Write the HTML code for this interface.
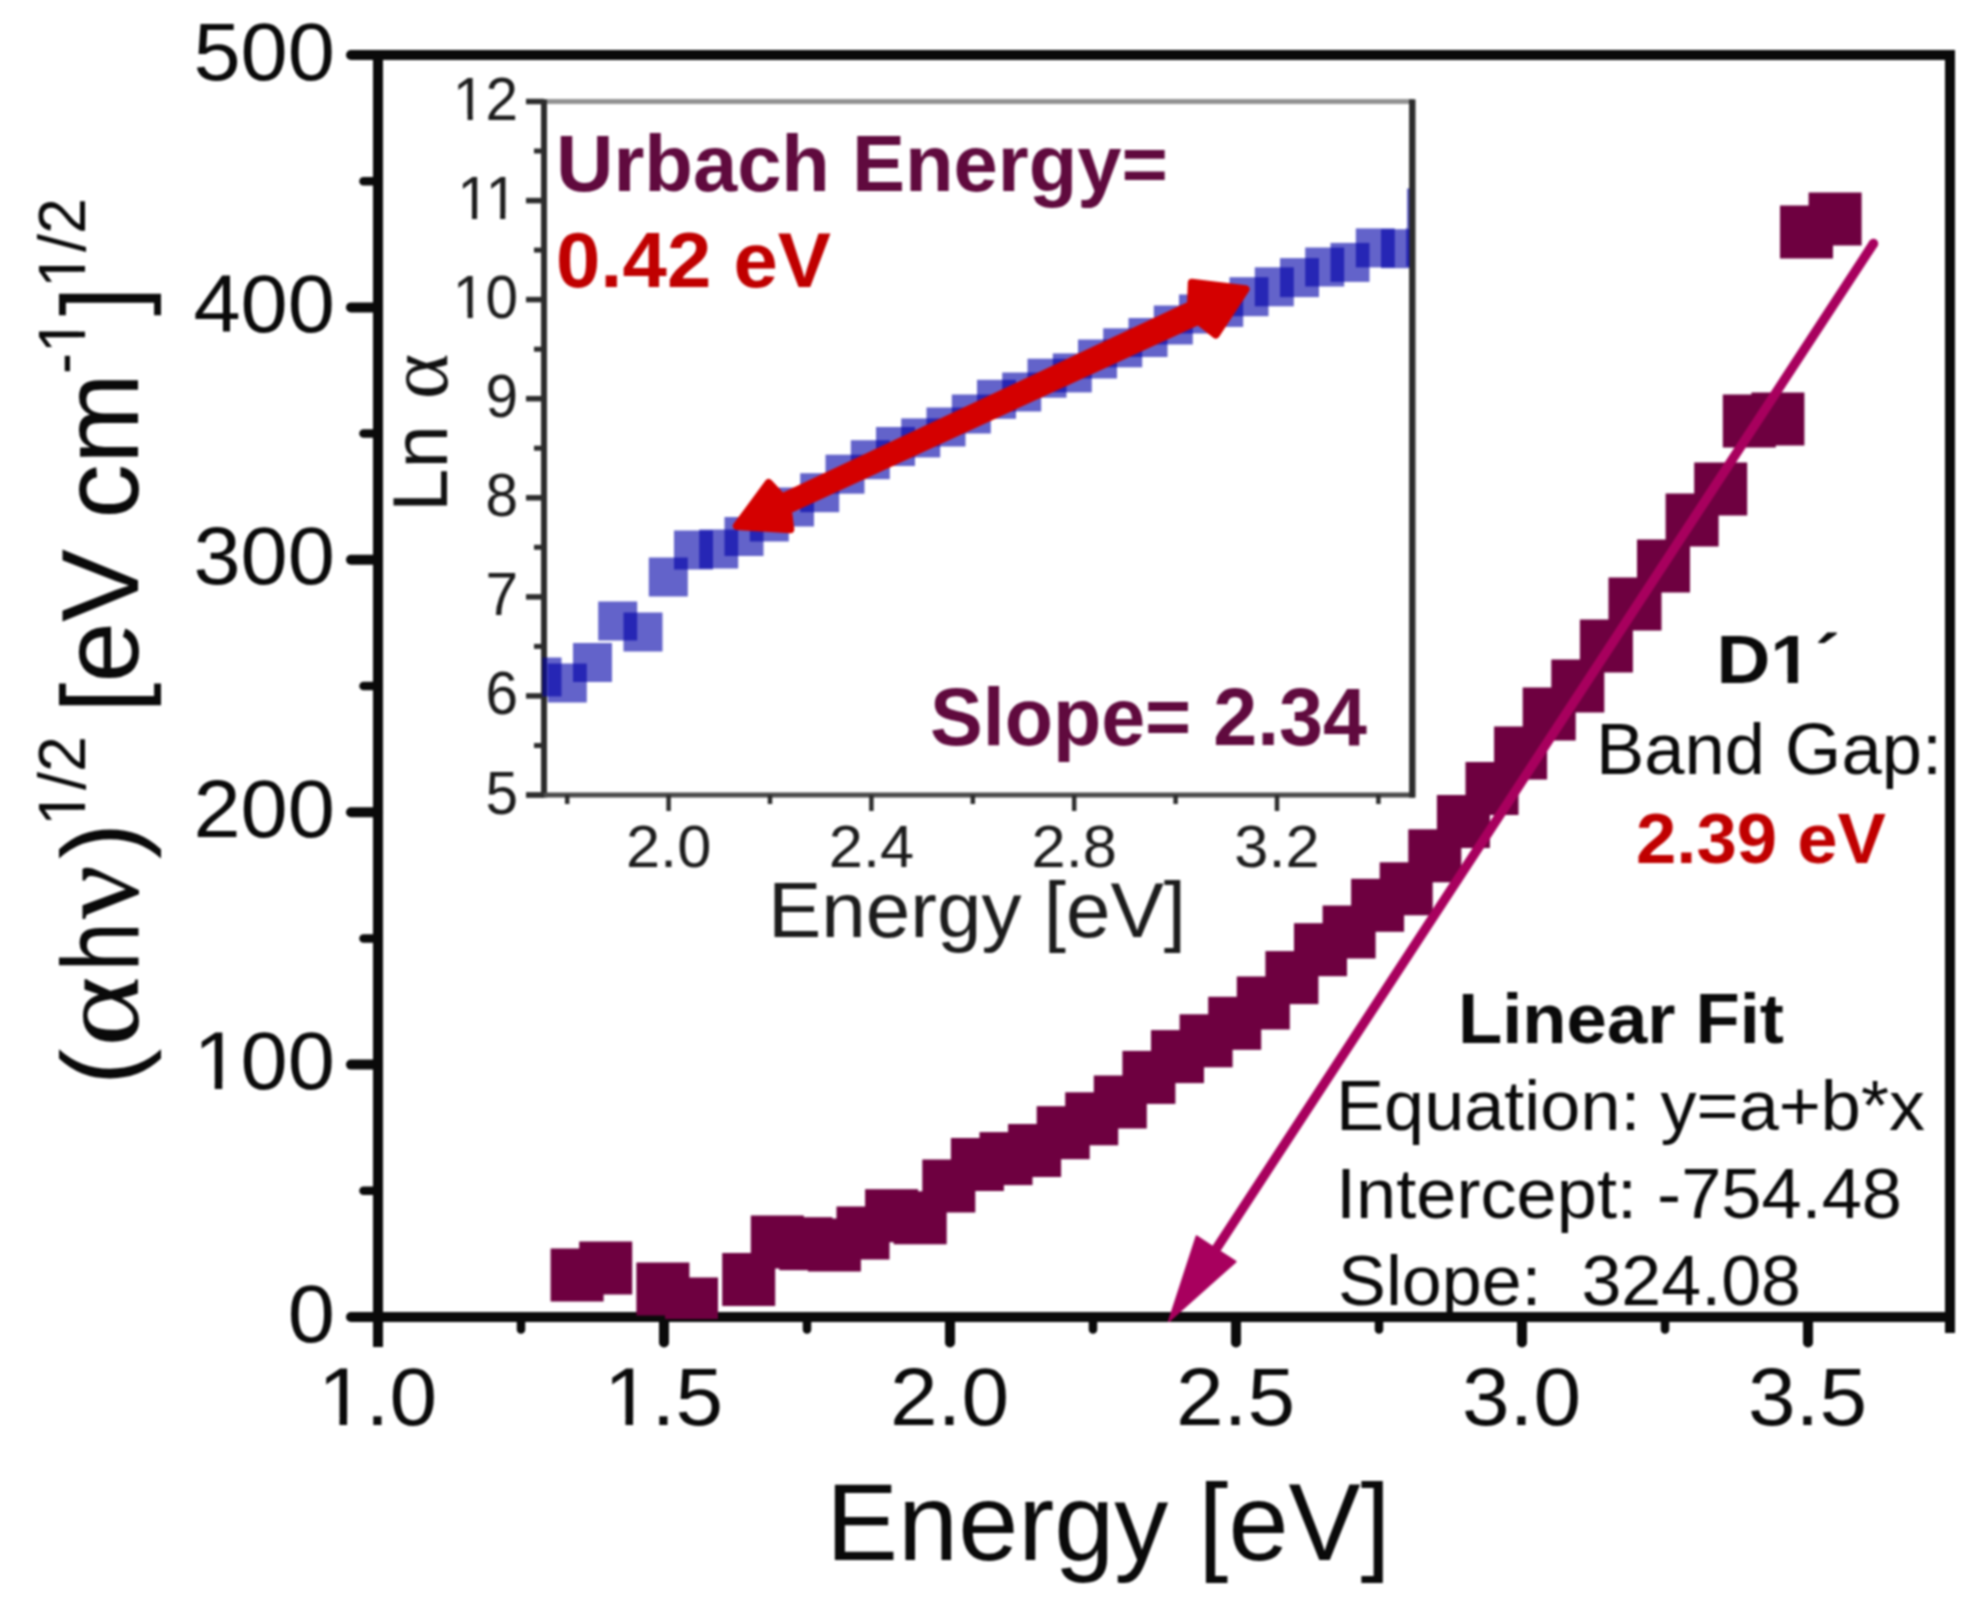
<!DOCTYPE html>
<html lang="en"><head><meta charset="utf-8"><title>Tauc plot</title>
<style>
html,body{margin:0;padding:0;background:#fff;}
body{width:1970px;height:1600px;overflow:hidden;}
svg{display:block;font-family:"Liberation Sans", sans-serif;filter:blur(1.3px);}
</style></head><body>
<svg width="1970" height="1600" viewBox="0 0 1970 1600">
<rect x="0" y="0" width="1970" height="1600" fill="#ffffff"/>
<g id="inset">
<line x1="526" y1="101.5" x2="1412.3" y2="101.5" stroke="#929292" stroke-width="5"/>
<line x1="544" y1="99.5" x2="544" y2="797.5" stroke="#2c2c2c" stroke-width="6"/>
<line x1="1412.3" y1="99.5" x2="1412.3" y2="797.5" stroke="#2c2c2c" stroke-width="6"/>
<line x1="526" y1="795" x2="1414.8" y2="795" stroke="#4a4a4a" stroke-width="5"/>
<line x1="526" y1="795.0" x2="544" y2="795.0" stroke="#2c2c2c" stroke-width="5.5"/>
<line x1="534" y1="745.5" x2="544" y2="745.5" stroke="#2c2c2c" stroke-width="5"/>
<text transform="translate(518,813.5) scale(0.96,1)" font-size="61" text-anchor="end" fill="#1c1c1c">5</text>
<line x1="526" y1="695.9" x2="544" y2="695.9" stroke="#2c2c2c" stroke-width="5.5"/>
<line x1="534" y1="646.4" x2="544" y2="646.4" stroke="#2c2c2c" stroke-width="5"/>
<text transform="translate(518,714.4) scale(0.96,1)" font-size="61" text-anchor="end" fill="#1c1c1c">6</text>
<line x1="526" y1="596.9" x2="544" y2="596.9" stroke="#2c2c2c" stroke-width="5.5"/>
<line x1="534" y1="547.3" x2="544" y2="547.3" stroke="#2c2c2c" stroke-width="5"/>
<text transform="translate(518,615.4) scale(0.96,1)" font-size="61" text-anchor="end" fill="#1c1c1c">7</text>
<line x1="526" y1="497.8" x2="544" y2="497.8" stroke="#2c2c2c" stroke-width="5.5"/>
<line x1="534" y1="448.2" x2="544" y2="448.2" stroke="#2c2c2c" stroke-width="5"/>
<text transform="translate(518,516.3) scale(0.96,1)" font-size="61" text-anchor="end" fill="#1c1c1c">8</text>
<line x1="526" y1="398.7" x2="544" y2="398.7" stroke="#2c2c2c" stroke-width="5.5"/>
<line x1="534" y1="349.2" x2="544" y2="349.2" stroke="#2c2c2c" stroke-width="5"/>
<text transform="translate(518,417.2) scale(0.96,1)" font-size="61" text-anchor="end" fill="#1c1c1c">9</text>
<line x1="526" y1="299.6" x2="544" y2="299.6" stroke="#2c2c2c" stroke-width="5.5"/>
<line x1="534" y1="250.1" x2="544" y2="250.1" stroke="#2c2c2c" stroke-width="5"/>
<text transform="translate(518,318.1) scale(0.96,1)" font-size="61" text-anchor="end" fill="#1c1c1c">10</text><rect x="-64.70" y="-5.36" width="12.19" height="6.56" fill="#ffffff" transform="translate(518,318.1) scale(0.96,1)"/><rect x="-47.11" y="-5.36" width="11.72" height="6.56" fill="#ffffff" transform="translate(518,318.1) scale(0.96,1)"/>
<line x1="526" y1="200.6" x2="544" y2="200.6" stroke="#2c2c2c" stroke-width="5.5"/>
<line x1="534" y1="151.0" x2="544" y2="151.0" stroke="#2c2c2c" stroke-width="5"/>
<text transform="translate(518,219.1) scale(0.96,1)" font-size="61" text-anchor="end" fill="#1c1c1c">11</text><rect x="-60.17" y="-5.36" width="12.19" height="6.56" fill="#ffffff" transform="translate(518,219.1) scale(0.96,1)"/><rect x="-42.59" y="-5.36" width="11.72" height="6.56" fill="#ffffff" transform="translate(518,219.1) scale(0.96,1)"/><rect x="-30.79" y="-5.36" width="12.19" height="6.56" fill="#ffffff" transform="translate(518,219.1) scale(0.96,1)"/><rect x="-13.21" y="-5.36" width="11.72" height="6.56" fill="#ffffff" transform="translate(518,219.1) scale(0.96,1)"/>
<line x1="526" y1="101.5" x2="544" y2="101.5" stroke="#2c2c2c" stroke-width="5.5"/>
<text transform="translate(518,120.0) scale(0.96,1)" font-size="61" text-anchor="end" fill="#1c1c1c">12</text><rect x="-64.70" y="-5.36" width="12.19" height="6.56" fill="#ffffff" transform="translate(518,120.0) scale(0.96,1)"/><rect x="-47.11" y="-5.36" width="11.72" height="6.56" fill="#ffffff" transform="translate(518,120.0) scale(0.96,1)"/>
<line x1="567.2" y1="795" x2="567.2" y2="804" stroke="#2c2c2c" stroke-width="4.5"/>
<line x1="668.6" y1="795" x2="668.6" y2="811" stroke="#2c2c2c" stroke-width="4.5"/>
<text transform="translate(668.6,867) scale(1.04,1)" font-size="59" text-anchor="middle" fill="#1c1c1c">2.0</text>
<line x1="770.0" y1="795" x2="770.0" y2="804" stroke="#2c2c2c" stroke-width="4.5"/>
<line x1="871.4" y1="795" x2="871.4" y2="811" stroke="#2c2c2c" stroke-width="4.5"/>
<text transform="translate(871.4,867) scale(1.04,1)" font-size="59" text-anchor="middle" fill="#1c1c1c">2.4</text>
<line x1="972.8" y1="795" x2="972.8" y2="804" stroke="#2c2c2c" stroke-width="4.5"/>
<line x1="1074.2" y1="795" x2="1074.2" y2="811" stroke="#2c2c2c" stroke-width="4.5"/>
<text transform="translate(1074.2,867) scale(1.04,1)" font-size="59" text-anchor="middle" fill="#1c1c1c">2.8</text>
<line x1="1175.6" y1="795" x2="1175.6" y2="804" stroke="#2c2c2c" stroke-width="4.5"/>
<line x1="1277.0" y1="795" x2="1277.0" y2="811" stroke="#2c2c2c" stroke-width="4.5"/>
<text transform="translate(1277.0,867) scale(1.04,1)" font-size="59" text-anchor="middle" fill="#1c1c1c">3.2</text>
<line x1="1378.4" y1="795" x2="1378.4" y2="804" stroke="#2c2c2c" stroke-width="4.5"/>
<text x="977" y="936.5" font-size="78" text-anchor="middle" fill="#1c1c1c" textLength="418" lengthAdjust="spacingAndGlyphs">Energy [eV]</text>
<text transform="translate(447,512) rotate(-90)" font-size="78" fill="#111"><tspan>Ln </tspan><tspan dx="4.3" font-family="'Liberation Serif', 'DejaVu Serif', serif" font-size="87">α</tspan></text>
<clipPath id="cpi"><rect x="542.5" y="101.5" width="869.8" height="693.5"/></clipPath>
<g clip-path="url(#cpi)" fill="#0000a8" fill-opacity="0.61">
<rect x="522.5" y="657.5" width="39" height="39"/>
<rect x="547.8" y="663.5" width="39" height="39"/>
<rect x="573.0" y="643.0" width="39" height="39"/>
<rect x="598.2" y="601.5" width="39" height="39"/>
<rect x="623.5" y="612.5" width="39" height="39"/>
<rect x="648.8" y="557.5" width="39" height="39"/>
<rect x="674.0" y="530.5" width="39" height="39"/>
<rect x="699.2" y="529.5" width="39" height="39"/>
<rect x="724.5" y="517.0" width="39" height="39"/>
<rect x="749.8" y="502.5" width="39" height="39"/>
<rect x="775.0" y="487.5" width="39" height="39"/>
<rect x="800.2" y="473.2" width="39" height="39"/>
<rect x="825.5" y="454.7" width="39" height="39"/>
<rect x="850.8" y="440.2" width="39" height="39"/>
<rect x="876.0" y="427.0" width="39" height="39"/>
<rect x="901.2" y="418.4" width="39" height="39"/>
<rect x="926.5" y="407.5" width="39" height="39"/>
<rect x="951.8" y="394.5" width="39" height="39"/>
<rect x="977.0" y="379.8" width="39" height="39"/>
<rect x="1002.2" y="372.5" width="39" height="39"/>
<rect x="1027.5" y="358.7" width="39" height="39"/>
<rect x="1052.8" y="353.4" width="39" height="39"/>
<rect x="1078.0" y="339.5" width="39" height="39"/>
<rect x="1103.2" y="328.3" width="39" height="39"/>
<rect x="1128.5" y="318.0" width="39" height="39"/>
<rect x="1153.8" y="305.5" width="39" height="39"/>
<rect x="1179.0" y="294.5" width="39" height="39"/>
<rect x="1204.2" y="287.9" width="39" height="39"/>
<rect x="1229.5" y="277.2" width="39" height="39"/>
<rect x="1254.8" y="267.3" width="39" height="39"/>
<rect x="1280.0" y="258.1" width="39" height="39"/>
<rect x="1305.2" y="247.5" width="39" height="39"/>
<rect x="1330.5" y="242.9" width="39" height="39"/>
<rect x="1355.8" y="228.4" width="39" height="39"/>
<rect x="1381.0" y="229.2" width="39" height="39"/>
<rect x="1406.2" y="227.5" width="39" height="39"/>
<rect x="1407.0" y="188.5" width="39" height="39"/>
</g>
<line x1="1412.3" y1="99.5" x2="1412.3" y2="797.5" stroke="#2c2c2c" stroke-width="6"/>
<path d="M736.9,526.0 L790.3,529.3 L787.9,510.0 L1198.4,320.8 L1215.8,334.5 L1245.5,289.2 L1191.8,282.8 L1191.0,304.9 L782.0,497.3 L768.7,483.0Z" fill="#d40000" stroke="#d40000" stroke-width="8" stroke-linejoin="round"/>
<text x="556" y="190.5" font-size="80" font-weight="bold" fill="#600a3e" textLength="612" lengthAdjust="spacingAndGlyphs">Urbach Energy=</text>
<text x="556" y="286.5" font-size="78" font-weight="bold" fill="#c00000" textLength="275" lengthAdjust="spacingAndGlyphs">0.42 eV</text>
<text x="930" y="744.5" font-size="81" font-weight="bold" fill="#600a3e" textLength="437" lengthAdjust="spacingAndGlyphs">Slope= 2.34</text>
</g>
<g id="mainaxes" stroke="#0a0a0a" stroke-width="10" stroke-linecap="butt">
<line x1="351" y1="55" x2="378" y2="55" stroke-linecap="round"/>
<line x1="378" y1="55" x2="1955.0" y2="55"/>
<line x1="351" y1="1317" x2="378" y2="1317" stroke-linecap="round"/>
<line x1="378" y1="1317" x2="1955.0" y2="1317"/>
<line x1="378" y1="55" x2="378" y2="1347"/>
<line x1="1950" y1="55" x2="1950" y2="1333"/>
<line x1="363.5" y1="1190.8" x2="378" y2="1190.8" stroke-width="8.5" stroke-linecap="round"/>
<line x1="351" y1="1064.6" x2="378" y2="1064.6" stroke-linecap="round"/>
<line x1="363.5" y1="938.4" x2="378" y2="938.4" stroke-width="8.5" stroke-linecap="round"/>
<line x1="351" y1="812.2" x2="378" y2="812.2" stroke-linecap="round"/>
<line x1="363.5" y1="686.0" x2="378" y2="686.0" stroke-width="8.5" stroke-linecap="round"/>
<line x1="351" y1="559.8" x2="378" y2="559.8" stroke-linecap="round"/>
<line x1="363.5" y1="433.6" x2="378" y2="433.6" stroke-width="8.5" stroke-linecap="round"/>
<line x1="351" y1="307.4" x2="378" y2="307.4" stroke-linecap="round"/>
<line x1="363.5" y1="181.2" x2="378" y2="181.2" stroke-width="8.5" stroke-linecap="round"/>
<line x1="521.0" y1="1317" x2="521.0" y2="1329.5" stroke-width="8.5" stroke-linecap="round"/>
<line x1="664.0" y1="1317" x2="664.0" y2="1342.5" stroke-linecap="round"/>
<line x1="807.0" y1="1317" x2="807.0" y2="1329.5" stroke-width="8.5" stroke-linecap="round"/>
<line x1="950.0" y1="1317" x2="950.0" y2="1342.5" stroke-linecap="round"/>
<line x1="1093.0" y1="1317" x2="1093.0" y2="1329.5" stroke-width="8.5" stroke-linecap="round"/>
<line x1="1236.0" y1="1317" x2="1236.0" y2="1342.5" stroke-linecap="round"/>
<line x1="1379.0" y1="1317" x2="1379.0" y2="1329.5" stroke-width="8.5" stroke-linecap="round"/>
<line x1="1522.0" y1="1317" x2="1522.0" y2="1342.5" stroke-linecap="round"/>
<line x1="1665.0" y1="1317" x2="1665.0" y2="1329.5" stroke-width="8.5" stroke-linecap="round"/>
<line x1="1808.0" y1="1317" x2="1808.0" y2="1342.5" stroke-linecap="round"/>
</g>
<text transform="translate(335,1341.5) scale(1.035,1)" font-size="82" text-anchor="end" fill="#0a0a0a">0</text>
<text transform="translate(335,1089.1) scale(1.035,1)" font-size="82" text-anchor="end" fill="#0a0a0a">100</text><rect x="-132.06" y="-6.93" width="15.87" height="8.13" fill="#ffffff" transform="translate(335,1089.1) scale(1.035,1)"/><rect x="-108.94" y="-6.93" width="15.23" height="8.13" fill="#ffffff" transform="translate(335,1089.1) scale(1.035,1)"/>
<text transform="translate(335,836.7) scale(1.035,1)" font-size="82" text-anchor="end" fill="#0a0a0a">200</text>
<text transform="translate(335,584.3) scale(1.035,1)" font-size="82" text-anchor="end" fill="#0a0a0a">300</text>
<text transform="translate(335,331.9) scale(1.035,1)" font-size="82" text-anchor="end" fill="#0a0a0a">400</text>
<text transform="translate(335,79.5) scale(1.035,1)" font-size="82" text-anchor="end" fill="#0a0a0a">500</text>
<text transform="translate(377.5,1425) scale(1.045,1)" font-size="82" text-anchor="middle" fill="#0a0a0a">1.0</text><rect x="-52.25" y="-6.93" width="15.87" height="8.13" fill="#ffffff" transform="translate(377.5,1425) scale(1.045,1)"/><rect x="-29.13" y="-6.93" width="15.23" height="8.13" fill="#ffffff" transform="translate(377.5,1425) scale(1.045,1)"/>
<text transform="translate(663.5,1425) scale(1.045,1)" font-size="82" text-anchor="middle" fill="#0a0a0a">1.5</text><rect x="-52.25" y="-6.93" width="15.87" height="8.13" fill="#ffffff" transform="translate(663.5,1425) scale(1.045,1)"/><rect x="-29.13" y="-6.93" width="15.23" height="8.13" fill="#ffffff" transform="translate(663.5,1425) scale(1.045,1)"/>
<text transform="translate(949.5,1425) scale(1.045,1)" font-size="82" text-anchor="middle" fill="#0a0a0a">2.0</text>
<text transform="translate(1235.5,1425) scale(1.045,1)" font-size="82" text-anchor="middle" fill="#0a0a0a">2.5</text>
<text transform="translate(1521.5,1425) scale(1.045,1)" font-size="82" text-anchor="middle" fill="#0a0a0a">3.0</text>
<text transform="translate(1807.5,1425) scale(1.045,1)" font-size="82" text-anchor="middle" fill="#0a0a0a">3.5</text>
<text x="1108.3" y="1560" font-size="110" text-anchor="middle" fill="#0a0a0a" textLength="564.5" lengthAdjust="spacingAndGlyphs">Energy [eV]</text>
<text transform="translate(138,1100) rotate(-90)" font-size="110" fill="#0a0a0a"><tspan x="33.0" y="0" text-anchor="middle">(</tspan><tspan x="88.6" y="0" text-anchor="middle" font-family="'Liberation Serif', 'DejaVu Serif', serif" font-size="117" textLength="70.5" lengthAdjust="spacingAndGlyphs">α</tspan><tspan x="153.2" y="0" text-anchor="middle" textLength="48.9" lengthAdjust="spacingAndGlyphs">h</tspan><tspan x="208.0" y="0" text-anchor="middle" font-family="'Liberation Serif', 'DejaVu Serif', serif" font-size="120">ν</tspan><tspan x="259.0" y="0" text-anchor="middle">)</tspan><tspan x="274.0" y="-53" font-size="67" textLength="90" lengthAdjust="spacingAndGlyphs">1/2</tspan><tspan x="356.6" y="0" textLength="370.4" lengthAdjust="spacingAndGlyphs"> [eV cm</tspan><tspan x="726.0" y="-53" font-size="67" textLength="56" lengthAdjust="spacingAndGlyphs">-1</tspan><tspan x="784.0" y="0" textLength="30" lengthAdjust="spacingAndGlyphs">]</tspan><tspan x="812.0" y="-53" font-size="67" textLength="90" lengthAdjust="spacingAndGlyphs">1/2</tspan></text><rect x="277.43" y="-58.81" width="12.85" height="7.01" fill="#ffffff" transform="translate(138,1100) rotate(-90)"/><rect x="296.00" y="-58.81" width="12.34" height="7.01" fill="#ffffff" transform="translate(138,1100) rotate(-90)"/><rect x="750.26" y="-58.81" width="12.54" height="7.01" fill="#ffffff" transform="translate(138,1100) rotate(-90)"/><rect x="768.36" y="-58.81" width="12.05" height="7.01" fill="#ffffff" transform="translate(138,1100) rotate(-90)"/><rect x="815.43" y="-58.81" width="12.85" height="7.01" fill="#ffffff" transform="translate(138,1100) rotate(-90)"/><rect x="834.00" y="-58.81" width="12.34" height="7.01" fill="#ffffff" transform="translate(138,1100) rotate(-90)"/>
<clipPath id="cpm"><rect x="379" y="60" width="1566" height="1259"/></clipPath>
<g fill="#6e0040" clip-path="url(#cpm)">
<rect x="550.6" y="1248.5" width="53" height="53"/>
<rect x="579.2" y="1241.5" width="53" height="53"/>
<rect x="636.4" y="1262.5" width="53" height="53"/>
<rect x="665.0" y="1277.5" width="53" height="53"/>
<rect x="722.2" y="1253.0" width="53" height="53"/>
<rect x="750.8" y="1215.5" width="53" height="53"/>
<rect x="779.3" y="1217.2" width="53" height="53"/>
<rect x="807.9" y="1218.5" width="53" height="53"/>
<rect x="836.5" y="1206.5" width="53" height="53"/>
<rect x="865.1" y="1189.2" width="53" height="53"/>
<rect x="893.7" y="1191.3" width="53" height="53"/>
<rect x="922.3" y="1159.5" width="53" height="53"/>
<rect x="950.9" y="1138.0" width="53" height="53"/>
<rect x="979.5" y="1132.1" width="53" height="53"/>
<rect x="1008.1" y="1124.0" width="53" height="53"/>
<rect x="1036.7" y="1106.2" width="53" height="53"/>
<rect x="1065.2" y="1092.3" width="53" height="53"/>
<rect x="1093.8" y="1075.5" width="53" height="53"/>
<rect x="1122.4" y="1050.9" width="53" height="53"/>
<rect x="1151.0" y="1030.1" width="53" height="53"/>
<rect x="1179.6" y="1014.3" width="53" height="53"/>
<rect x="1208.2" y="996.8" width="53" height="53"/>
<rect x="1236.8" y="976.5" width="53" height="53"/>
<rect x="1265.4" y="951.1" width="53" height="53"/>
<rect x="1294.0" y="923.2" width="53" height="53"/>
<rect x="1322.6" y="905.5" width="53" height="53"/>
<rect x="1351.1" y="878.8" width="53" height="53"/>
<rect x="1379.7" y="862.3" width="53" height="53"/>
<rect x="1408.3" y="829.3" width="53" height="53"/>
<rect x="1436.9" y="795.0" width="53" height="53"/>
<rect x="1465.5" y="762.0" width="53" height="53"/>
<rect x="1494.1" y="726.5" width="53" height="53"/>
<rect x="1522.7" y="687.5" width="53" height="53"/>
<rect x="1551.3" y="659.5" width="53" height="53"/>
<rect x="1579.9" y="619.5" width="53" height="53"/>
<rect x="1608.5" y="577.5" width="53" height="53"/>
<rect x="1637.0" y="539.5" width="53" height="53"/>
<rect x="1665.6" y="493.5" width="53" height="53"/>
<rect x="1694.2" y="462.5" width="53" height="53"/>
<rect x="1722.8" y="394.5" width="53" height="53"/>
<rect x="1751.4" y="392.5" width="53" height="53"/>
<rect x="1780.0" y="205.5" width="53" height="53"/>
<rect x="1808.6" y="192.5" width="53" height="53"/>
</g>
<path d="M1870.4,241.4 L1212.9,1247.0 L1196.6,1236.3 L1169.0,1321.0 L1235.5,1261.7 L1219.2,1251.1 L1876.6,245.6Z" fill="#a8005e" stroke="#a8005e" stroke-width="2" stroke-linejoin="round"/>
<circle cx="1873.5" cy="243.5" r="4.75" fill="#a8005e"/>
<g fill="#0a0a0a">
<text transform="translate(1716.5,683) scale(1.08,1)" font-size="69" font-weight="bold">D1<tspan dx="3">´</tspan></text><rect x="52.66" y="-7.84" width="13.26" height="9.04" fill="#ffffff" transform="translate(1716.5,683) scale(1.08,1)"/><rect x="75.38" y="-7.84" width="12.38" height="9.04" fill="#ffffff" transform="translate(1716.5,683) scale(1.08,1)"/>
<text x="1596" y="774" font-size="72" textLength="346" lengthAdjust="spacingAndGlyphs">Band Gap:</text>
<text x="1636" y="863" font-size="71" font-weight="bold" fill="#c00000" textLength="250" lengthAdjust="spacingAndGlyphs">2.39 eV</text>
<text x="1458" y="1042.5" font-size="70" font-weight="bold" textLength="326" lengthAdjust="spacingAndGlyphs">Linear Fit</text>
<text x="1336" y="1130" font-size="71" textLength="589" lengthAdjust="spacingAndGlyphs">Equation: y=a+b*x</text>
<text x="1336" y="1217.5" font-size="71" textLength="566" lengthAdjust="spacingAndGlyphs">Intercept: -754.48</text>
<text x="1338" y="1305" font-size="71" textLength="463" lengthAdjust="spacingAndGlyphs" xml:space="preserve">Slope:  324.08</text>
</g>
</svg>
</body></html>
